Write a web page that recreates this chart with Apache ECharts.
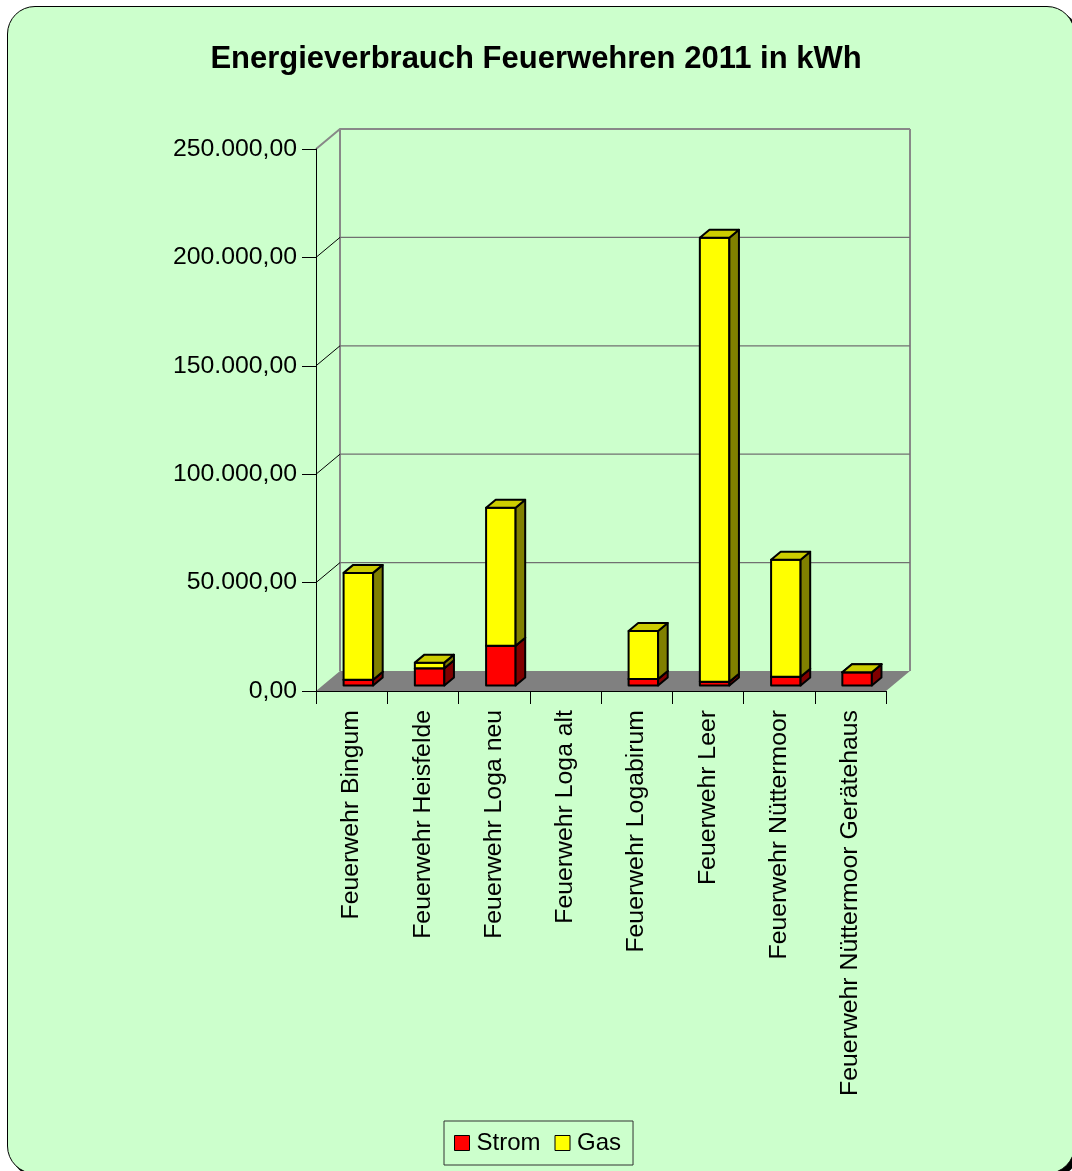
<!DOCTYPE html>
<html>
<head>
<meta charset="utf-8">
<title>Energieverbrauch Feuerwehren 2011 in kWh</title>
<script src="https://cdn.jsdelivr.net/npm/echarts@6/dist/echarts.min.js"></script>
<style>
  html, body { margin: 0; padding: 0; background: #ffffff; overflow: hidden; }
  #frame {
    position: absolute; left: 7px; top: 6px; width: 1066px; height: 1166px;
    background: #CCFFCC; border: 1.5px solid #000; border-radius: 28px;
    box-shadow: 4px 4px 0 #000;
  }
  #chart { position: absolute; left: 0; top: 0; width: 1072px; height: 1171px; }
</style>
</head>
<body>
<div id="frame"></div>
<div id="chart"></div>
<script>
// Energy consumption of the fire stations, 2011 (kWh)
const categories = [
  'Feuerwehr Bingum',
  'Feuerwehr Heisfelde',
  'Feuerwehr Loga neu',
  'Feuerwehr Loga alt',
  'Feuerwehr Logabirum',
  'Feuerwehr Leer',
  'Feuerwehr Nüttermoor',
  'Feuerwehr Nüttermoor Gerätehaus'
];
const strom = [2600, 7900, 18300, null, 3000, 1700, 4000, 6100];
const gas   = [49300, 2600, 63600, null, 22100, 204800, 54000, 0];

const yTicks = [0, 50000, 100000, 150000, 200000, 250000];
const yTickLabels = ['0,00', '50.000,00', '100.000,00', '150.000,00', '200.000,00', '250.000,00'];

// oblique 3D projection: offset of the back wall relative to the front plane
const DEPTH_X = 24;
const DEPTH_Y = -20;
const BAR_FRONT = 0.28;   // depth position of a bar's front face
const BAR_DEPTH = 0.4;    // depth of a bar
const BAR_WIDTH = 0.414;  // share of the category band

const FONT = "'Liberation Sans', Arial, sans-serif";
const AXIS_FONT_SIZE = 24.8;

const faces = {
  Strom: { front: '#FF0000', side: '#800000', top: '#CC0000' },
  Gas:   { front: '#FFFF00', side: '#808000', top: '#CCCC00' }
};

function barRenderer(name) {
  const f = faces[name];
  return function (params, api) {
    const i = api.value(0);
    const v = api.value(1);
    const base = api.value(2);
    if (v == null || isNaN(v)) return null;
    const p0 = api.coord([i, base]);
    const p1 = api.coord([i, base + v]);
    const band = api.size([1, 0])[0];
    const w = band * BAR_WIDTH;
    const ox = DEPTH_X * BAR_FRONT, oy = DEPTH_Y * BAR_FRONT;
    const dx = DEPTH_X * BAR_DEPTH, dy = DEPTH_Y * BAR_DEPTH;
    const xl = p0[0] - w / 2 + ox, xr = xl + w;
    const yb = p0[1] + oy, yt = p1[1] + oy;
    const edge = { stroke: '#000', lineWidth: 2, lineJoin: 'round' };
    return {
      type: 'group',
      children: [
        { type: 'polygon', shape: { points: [[xl, yb], [xr, yb], [xr, yt], [xl, yt]] },
          style: Object.assign({ fill: f.front }, edge) },
        { type: 'polygon', shape: { points: [[xr, yb], [xr + dx, yb + dy], [xr + dx, yt + dy], [xr, yt]] },
          style: Object.assign({ fill: f.side }, edge) },
        { type: 'polygon', shape: { points: [[xl, yt], [xr, yt], [xr + dx, yt + dy], [xl + dx, yt + dy]] },
          style: Object.assign({ fill: f.top }, edge) }
      ]
    };
  };
}

// floor, walls and wall gridlines
function wallRenderer(params, api) {
  const cs = params.coordSys;
  const v = api.value(1);
  const x0 = cs.x, x1 = cs.x + cs.width;
  const y = api.coord([0, v])[1];
  const yTop = cs.y, yBot = cs.y + cs.height;
  const children = [];
  const max = yTicks[yTicks.length - 1];
  if (v === 0) {
    children.push({
      type: 'polygon',
      shape: { points: [[x0, yBot], [x1, yBot], [x1 + DEPTH_X, yBot + DEPTH_Y], [x0 + DEPTH_X, yBot + DEPTH_Y]] },
      style: { fill: '#808080' }
    });
    children.push({
      type: 'polyline',
      shape: { points: [[x0 + DEPTH_X, yBot + DEPTH_Y], [x0 + DEPTH_X, yTop + DEPTH_Y]] },
      style: { stroke: '#888888', lineWidth: 2, fill: null }
    });
    children.push({
      type: 'polyline',
      shape: { points: [[x1 + DEPTH_X, yBot + DEPTH_Y], [x1 + DEPTH_X, yTop + DEPTH_Y]] },
      style: { stroke: '#888888', lineWidth: 2, fill: null }
    });
  } else if (v === max) {
    children.push({
      type: 'polyline',
      shape: { points: [[x0, y], [x0 + DEPTH_X, y + DEPTH_Y], [x1 + DEPTH_X, y + DEPTH_Y]] },
      style: { stroke: '#888888', lineWidth: 2, fill: null }
    });
  } else {
    children.push({
      type: 'line',
      shape: { x1: x0, y1: y, x2: x0 + DEPTH_X, y2: y + DEPTH_Y },
      style: { stroke: '#000', lineWidth: 1 }
    });
    children.push({
      type: 'line',
      shape: { x1: x0 + DEPTH_X, y1: y + DEPTH_Y, x2: x1 + DEPTH_X, y2: y + DEPTH_Y },
      style: { stroke: '#707070', lineWidth: 1.2 }
    });
  }
  return { type: 'group', children: children };
}

const chart = echarts.init(document.getElementById('chart'), null, { renderer: 'canvas' });

chart.setOption({
  backgroundColor: 'transparent',
  animation: false,
  title: {
    text: 'Energieverbrauch Feuerwehren 2011 in kWh',
    left: 'center',
    top: 44,
    padding: [0, 0, 0, 7],
    textStyle: { fontFamily: FONT, fontSize: 31, fontWeight: 'bold', color: '#000' }
  },
  legend: {
    data: [
      { name: 'Strom', itemStyle: { color: '#FF0000', borderColor: '#000', borderWidth: 1 } },
      { name: 'Gas', itemStyle: { color: '#FFFF00', borderColor: '#000', borderWidth: 1 } }
    ],
    left: 444,
    top: 1121,
    icon: 'rect',
    itemWidth: 15,
    itemHeight: 15,
    itemGap: 14,
    padding: [10, 12, 10, 10],
    borderColor: '#333',
    borderWidth: 1,
    textStyle: { fontFamily: FONT, fontSize: 24, color: '#000', padding: [0, 0, 0, 2] }
  },
  grid: { left: 316, top: 149, width: 570, height: 542, containLabel: false },
  xAxis: {
    type: 'category',
    data: categories,
    z: 5,
    axisLine: { show: true, lineStyle: { color: '#000', width: 1 } },
    axisTick: { show: true, length: 13, lineStyle: { color: '#000', width: 1 } },
    axisLabel: {
      rotate: 90,
      margin: 19,
      interval: 0,
      fontFamily: FONT,
      fontSize: AXIS_FONT_SIZE,
      color: '#000'
    },
    splitLine: { show: false }
  },
  yAxis: {
    type: 'value',
    min: 0,
    max: 250000,
    interval: 50000,
    z: 5,
    axisLine: { show: true, lineStyle: { color: '#000', width: 1 } },
    axisTick: { show: true, length: 14, lineStyle: { color: '#000', width: 1 } },
    axisLabel: {
      margin: 19,
      fontFamily: FONT,
      fontSize: AXIS_FONT_SIZE,
      color: '#000',
      formatter: function (v) {
        const k = yTicks.indexOf(v);
        return k >= 0 ? yTickLabels[k] : '';
      }
    },
    splitLine: { show: false }
  },
  series: [
    {
      name: 'walls',
      type: 'custom',
      clip: false,
      silent: true,
      z: 1,
      renderItem: wallRenderer,
      encode: { x: 0, y: 1 },
      data: yTicks.map(v => [0, v])
    },
    {
      name: 'Strom',
      type: 'custom',
      clip: false,
      z: 3,
      itemStyle: { color: '#FF0000' },
      renderItem: barRenderer('Strom'),
      encode: { x: 0, y: 1 },
      data: strom.map((v, i) => [i, v == null ? '-' : v, 0])
    },
    {
      name: 'Gas',
      type: 'custom',
      clip: false,
      z: 4,
      itemStyle: { color: '#FFFF00' },
      renderItem: barRenderer('Gas'),
      encode: { x: 0, y: 1 },
      data: gas.map((v, i) => [i, v == null ? '-' : v, strom[i] == null ? 0 : strom[i]])
    }
  ]
});
</script>
</body>
</html>
